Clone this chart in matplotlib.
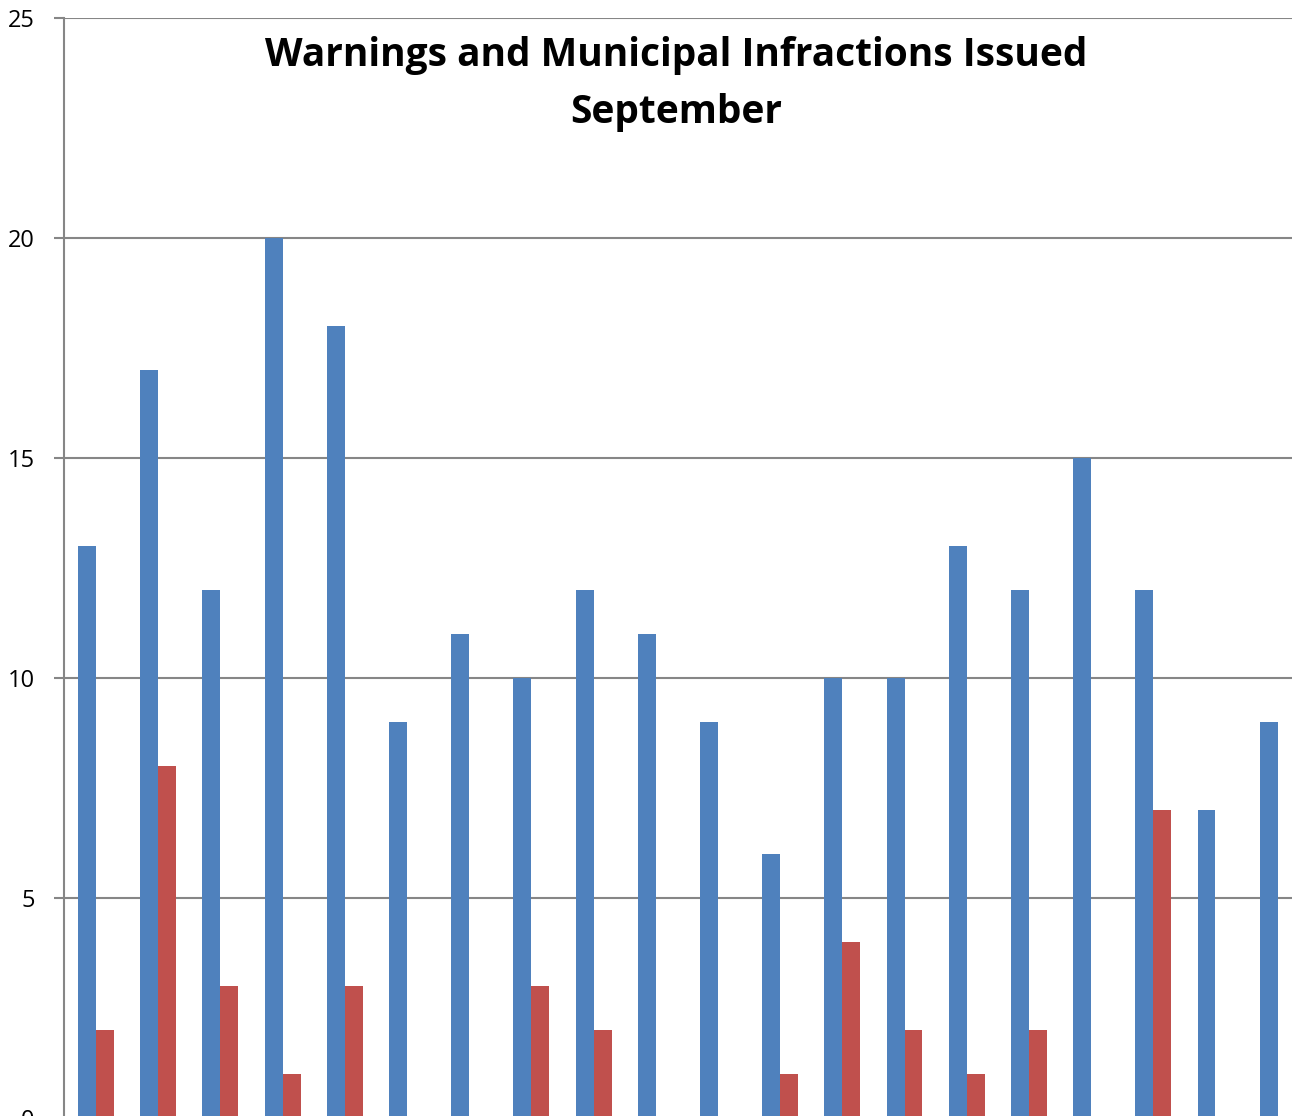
import matplotlib.pyplot as plt
import numpy as np

# Dados (dias de setembro, sem rótulos visíveis no eixo x)
avisos = [13, 17, 12, 20, 18, 9, 11, 10, 12, 11, 9, 6, 10, 10, 13, 12, 15, 12, 7, 9]
infracoes = [2, 8, 3, 1, 3, 0, 0, 3, 2, 0, 0, 1, 4, 2, 1, 2, 0, 7, 0, 0]
y_ticks = [0, 5, 10, 15, 20, 25]

plt.rcParams['font.family'] = ['Open Sans', 'DejaVu Sans']

fig = plt.figure(figsize=(12.92, 11.16), dpi=100)
ax = fig.add_axes([64 / 1292, -2 / 1116, 1 - 64 / 1292, 1100 / 1116])

x = np.arange(len(avisos))
largura = 0.289
ax.bar(x - largura / 2, avisos, largura, color='#4F81BD', zorder=3)
ax.bar(x + largura / 2, infracoes, largura, color='#C0504D', zorder=3)

ax.set_xlim(-0.514, 19.23)
ax.set_ylim(0, 25)
ax.set_yticks(y_ticks)
ax.set_yticklabels([str(v) for v in y_ticks], fontsize=17)
ax.set_xticks([])
ax.tick_params(axis='y', length=7, width=1.5, color='#868686', pad=14)
ax.yaxis.grid(True, color='#868686', linewidth=1.5, zorder=0)

for lado in ['top', 'right', 'bottom']:
    ax.spines[lado].set_visible(False)
ax.spines['left'].set_color('#868686')
ax.spines['left'].set_linewidth(1.5)

fig.text(676 / 1292, 1 - 84 / 1116, 'Warnings and Municipal Infractions Issued\nSeptember',
         ha='center', va='center', fontsize=28, fontweight='bold', linespacing=1.62)

fig.savefig('out.png', dpi=100)
